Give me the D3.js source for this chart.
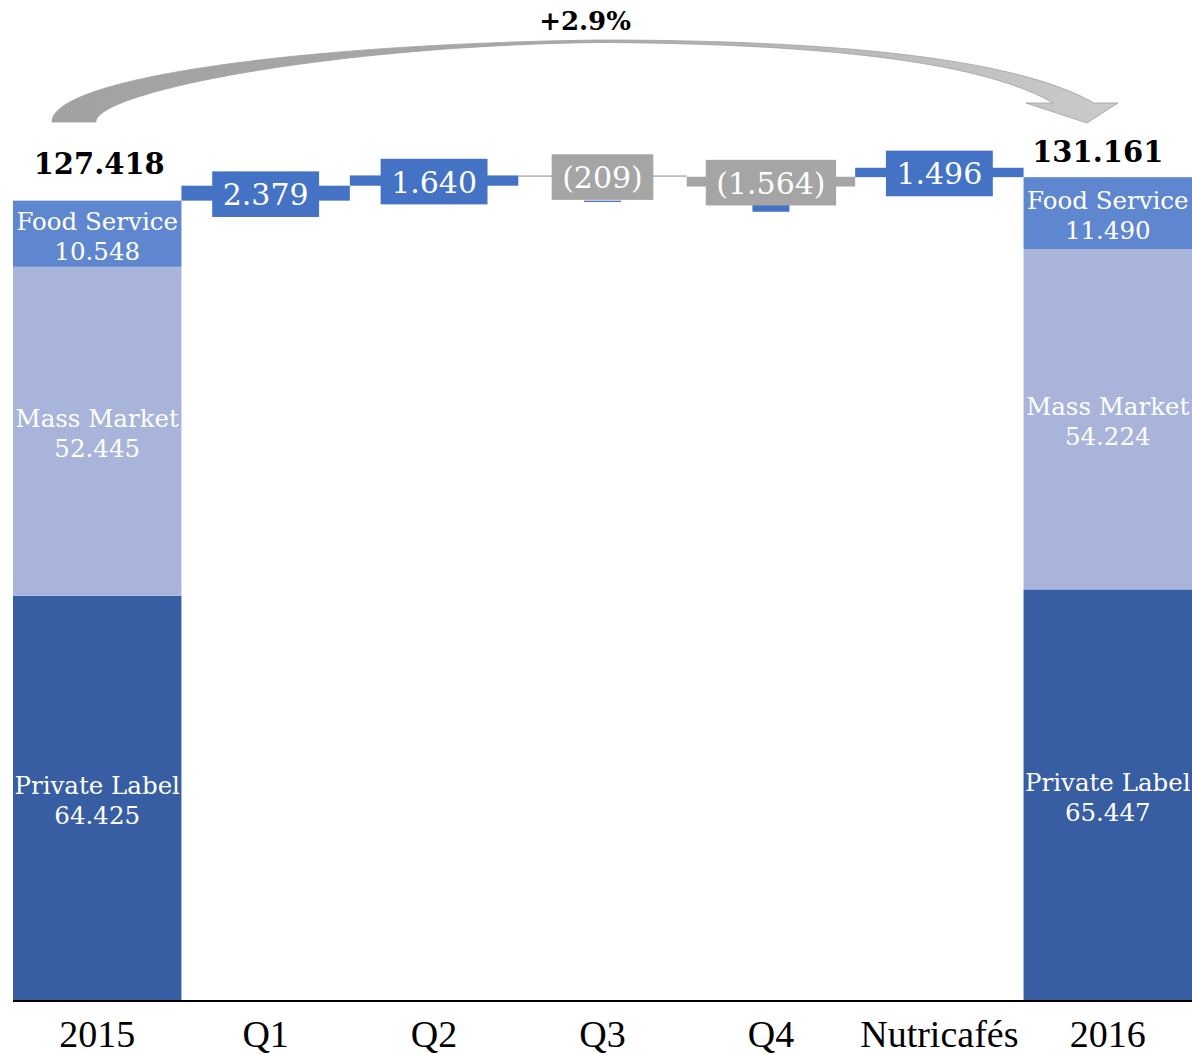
<!DOCTYPE html>
<html>
<head>
<meta charset="utf-8">
<script src="https://cdn.jsdelivr.net/npm/d3@7"></script>
<style>
  html, body { margin: 0; padding: 0; background: #ffffff; }
  svg { display: block; }
</style>
</head>
<body>
<svg id="chart" width="1192" height="1054"></svg>
<script>
// Net sales bridge 2015 → 2016 (values in units; shown in thousands with "." grouping)
const categories = ["2015", "Q1", "Q2", "Q3", "Q4", "Nutricafés", "2016"];
const segmentNames = ["Private Label", "Mass Market", "Food Service"];
const values2015 = [64425, 52445, 10548];
const values2016 = [65447, 54224, 11490];
const totals = [127418, 131161];
const stepNames = ["Q1", "Q2", "Q3", "Q4", "Nutricafés"];
const stepValues = [2379, 1640, -209, -1564, 1496];
const stepStart = [127418, 129797, 131437, 131228, 131161];
const growthLabel = "+2.9%";

const segmentColors = ["#375da3", "#a8b4da", "#5f87cf"];
const posColor = "#4472c4";
const negColor = "#a5a5a5";

const svg = d3.select("#chart");
const W = 1192, baseY = 1000;

const x = d3.scaleBand().domain(categories).range([13, 1192]).padding(0);
const y = d3.scaleLinear().domain([0, 159400]).range([baseY, 0]);

const loc = d3.formatLocale({ decimal: ",", thousands: ".", grouping: [3], currency: ["", ""] });
const fmt = loc.format(",d");
const fmtStep = v => v < 0 ? "(" + fmt(-v) + ")" : fmt(v);

// Curved growth arrow from 2015 to 2016
const defs = svg.append("defs");
const grad = defs.append("linearGradient").attr("id", "arrowGrad")
  .attr("x1", "0%").attr("x2", "100%").attr("y1", "0%").attr("y2", "0%");
grad.append("stop").attr("offset", "0%").attr("stop-color", "#a2a2a2");
grad.append("stop").attr("offset", "45%").attr("stop-color", "#a8a8a8");
grad.append("stop").attr("offset", "100%").attr("stop-color", "#cacaca");

const arrowPath = [
  "M52,122",
  "C52,78 300,44 600,40",
  "C880,40 1030,66 1094,103",
  "L1118,103 L1087,123 L1026,103 L1053,103",
  "C1000,72 880,44 600,42.5",
  "C330,46 96,92 96,122",
  "Z"
].join(" ");
svg.append("path").attr("d", arrowPath)
  .attr("fill", "url(#arrowGrad)")
  .attr("stroke", "#a0a0a0").attr("stroke-width", 0.8);

svg.append("text")
  .attr("x", 585).attr("y", 30)
  .attr("text-anchor", "middle")
  .attr("font-family", "DejaVu Serif").attr("font-weight", "bold")
  .attr("font-size", 26).attr("fill", "#000")
  .text(growthLabel);

// Stacked totals
function drawStack(cat, values, total, labelDx, labelDy) {
  const g = svg.append("g");
  let acc = 0;
  const bw = x.bandwidth();
  const cx = x(cat) + bw / 2;
  values.forEach((v, i) => {
    const y0 = y(acc), y1 = y(acc + v);
    g.append("rect")
      .attr("x", x(cat)).attr("width", bw)
      .attr("y", y1).attr("height", y0 - y1)
      .attr("fill", segmentColors[i]);
    const mid = (y0 + y1) / 2;
    const t = g.append("text")
      .attr("text-anchor", "middle")
      .attr("font-family", "DejaVu Serif")
      .attr("font-size", 24.5).attr("fill", "#ffffff");
    t.append("tspan").attr("x", cx).attr("y", mid - 4).text(segmentNames[i]);
    t.append("tspan").attr("x", cx).attr("y", mid + 26).text(fmt(v));
    acc += v;
  });
  svg.append("text")
    .attr("x", cx + labelDx).attr("y", y(total) + labelDy)
    .attr("text-anchor", "middle")
    .attr("font-family", "DejaVu Serif").attr("font-weight", "bold")
    .attr("font-size", 29).attr("fill", "#000")
    .text(fmt(total));
}
drawStack("2015", values2015, totals[0], 2, -27);
drawStack("2016", values2016, totals[1], -10, -15);

// Negative steps also leave a short blue stub below their labels
let negAcc = totals[0];
stepNames.forEach((name, i) => {
  const v = stepValues[i];
  if (v >= 0) return;
  const y0 = y(negAcc), y1 = y(negAcc + v);
  const cx = x(name) + x.bandwidth() / 2;
  svg.append("rect")
    .attr("x", cx - 18.5).attr("width", 37)
    .attr("y", y0).attr("height", Math.max(1.3, y1 - y0))
    .attr("fill", posColor);
  negAcc += v;
});

// Step bars across the full band, with a boxed label centred on each
stepNames.forEach((name, i) => {
  const v = stepValues[i];
  const s = stepStart[i];
  const yA = y(s), yB = y(s + v);
  const top = Math.min(yA, yB), h = Math.max(1.3, Math.abs(yA - yB));
  const col = v >= 0 ? posColor : negColor;
  svg.append("rect")
    .attr("x", x(name)).attr("width", x.bandwidth())
    .attr("y", top).attr("height", h)
    .attr("fill", col);
});

stepNames.forEach((name, i) => {
  const v = stepValues[i];
  const s = stepStart[i];
  const mid = (y(s) + y(s + v)) / 2 + 1;
  const cx = x(name) + x.bandwidth() / 2;
  const col = v >= 0 ? posColor : negColor;
  const g = svg.append("g");
  const rect = g.append("rect").attr("fill", col);
  const t = g.append("text")
    .attr("x", cx).attr("y", mid + 11)
    .attr("text-anchor", "middle")
    .attr("font-family", "DejaVu Serif")
    .attr("font-size", 30).attr("fill", "#ffffff")
    .text(fmtStep(v));
  const tw = t.node().getComputedTextLength();
  const bw = tw + 21;
  rect.attr("x", cx - bw / 2).attr("width", bw)
    .attr("y", mid - 22.8).attr("height", 45.6);
});

// Axis line and category labels
svg.append("line")
  .attr("x1", 13).attr("x2", W).attr("y1", baseY + 1).attr("y2", baseY + 1)
  .attr("stroke", "#000").attr("stroke-width", 2);

svg.append("g").selectAll("text").data(categories).join("text")
  .attr("x", d => x(d) + x.bandwidth() / 2)
  .attr("y", 1047)
  .attr("text-anchor", "middle")
  .attr("font-family", "Liberation Serif")
  .attr("font-size", 38).attr("fill", "#000")
  .text(d => d);
</script>
</body>
</html>
